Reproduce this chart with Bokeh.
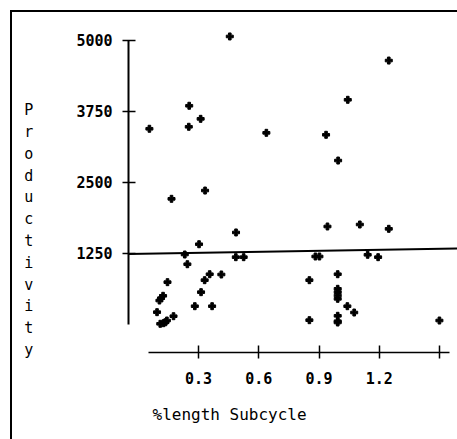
from bokeh.plotting import figure
from bokeh.models import Range1d, FixedTicker, Title
from bokeh.embed import file_html
from bokeh.resources import INLINE

# ---- data ----
x_vals = [0.456, 0.254, 0.311, 0.252, 0.056, 0.166, 0.333, 0.487, 0.303, 0.232,
          0.486, 0.525, 0.245, 0.146, 0.124, 0.114, 0.106, 0.094, 0.176, 0.143,
          0.126, 0.110, 0.136, 0.356, 0.331, 0.414, 0.313, 0.282, 0.368, 0.638,
          0.935, 1.043, 0.995, 0.942, 1.103, 0.882, 0.902, 1.142, 0.852, 0.993,
          0.993, 0.993, 0.993, 0.993, 1.041, 1.075, 0.852, 0.993, 0.993, 0.993,
          1.247, 1.247, 1.194, 1.499]
y_vals = [5070, 3850, 3620, 3480, 3445, 2212, 2358, 1620, 1413, 1232,
          1185, 1185, 1061, 745, 505, 463, 422, 217, 146, 70,
          23, 12, 40, 885, 780, 880, 569, 322, 322, 3374,
          3339, 3955, 2886, 1725, 1760, 1197, 1197, 1227, 780, 885,
          628, 569, 510, 452, 322, 211, 76, 153, 58, 35,
          4646, 1684, 1185, 70]
fit_x = [-0.05, 1.60]
fit_y = [1241, 1338]
y_ticks = [1250, 2500, 3750, 5000]
x_ticks = [0.3, 0.6, 0.9, 1.2, 1.5]
x_tick_labels = ["0.3", "0.6", "0.9", "1.2", ""]
y_title = "Productivity"
x_title = "%length Subcycle"

FONT = "DejaVu Sans Mono"
W, H = 457, 439
# frame placement (canvas pixels)
FL, FB, FT = 128, 352, 20

p = figure(width=W, height=H, output_backend="svg", toolbar_location=None,
           x_range=Range1d(-0.048, 1.589), y_range=Range1d(-493, 5351),
           min_border_left=FL, min_border_right=0, min_border_top=FT,
           min_border_bottom=H - FB, background_fill_color="white",
           border_fill_color=None, outline_line_color=None)
p.grid.visible = False
# page frame: thin black line on top and left, 10px in from the edge
p.styles = {"box-shadow": "inset 10px 10px 0 0 white, inset 12px 12px 0 0 black",
            "background-color": "white"}

# y axis
ya = p.yaxis[0]
ya.bounds = (0, 5000)
ya.ticker = FixedTicker(ticks=y_ticks)
ya.minor_tick_line_color = None
ya.major_tick_in = 7
ya.major_tick_out = 6
ya.axis_line_width = 2
ya.major_tick_line_width = 1.5
ya.axis_line_color = "black"
ya.major_tick_line_color = "black"
ya.major_label_text_font = FONT
ya.major_label_text_font_size = "15px"
ya.major_label_text_font_style = "bold"
ya.major_label_text_color = "black"
ya.major_label_standoff = 10
ya.axis_label = "\n\n\n\n" + "\n".join(y_title)
ya.axis_label_orientation = "horizontal"
ya.axis_label_text_font = FONT
ya.axis_label_text_font_size = "15px"
ya.axis_label_text_font_style = "normal"
ya.axis_label_text_color = "black"
ya.axis_label_text_line_height = 1.21
ya.axis_label_standoff = 40

# x axis
xa = p.xaxis[0]
xa.bounds = (0.05, 1.55)
xa.ticker = FixedTicker(ticks=x_ticks)
xa.major_label_overrides = {t: l for t, l in zip(x_ticks, x_tick_labels)}
xa.minor_tick_line_color = None
xa.major_tick_in = 7
xa.major_tick_out = 6
xa.axis_line_width = 1.5
xa.major_tick_line_width = 1.5
xa.axis_line_color = "black"
xa.major_tick_line_color = "black"
xa.major_label_text_font = FONT
xa.major_label_text_font_size = "15px"
xa.major_label_text_font_style = "bold"
xa.major_label_text_color = "black"
xa.major_label_standoff = 13

p.add_layout(Title(text=x_title, align="left", offset=24, standoff=32,
                   text_font=FONT, text_font_size="16px", text_font_style="normal",
                   text_color="black"), "below")

# fit line and points
p.line(fit_x, fit_y, line_color="black", line_width=2)
p.scatter(x_vals, y_vals, marker="plus", size=7, color="black")

open("out.html", "w").write(file_html(p, INLINE))
